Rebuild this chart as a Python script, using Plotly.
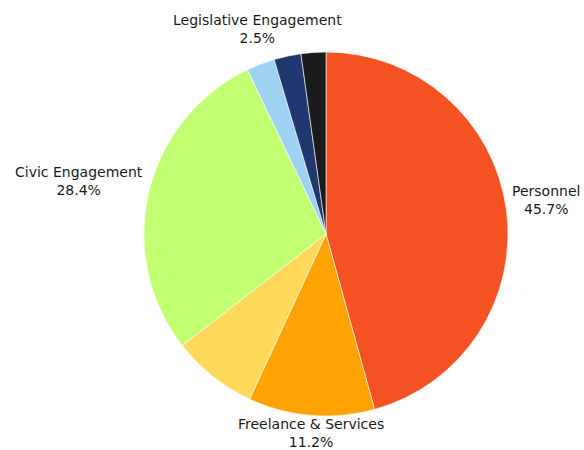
import math
import plotly.graph_objects as go

labels = ["Personnel", "Freelance & Services", "Events", "Civic Engagement",
          "Legislative Engagement", "Communications", "Other"]
values = [45.7, 11.2, 7.6, 28.4, 2.5, 2.4, 2.2]
shown = [True, True, False, True, True, False, False]
colors = ["#F55224", "#FFA302", "#FFD95A", "#C2FF72", "#9DD2F3", "#21376F", "#1B1B1B"]

fig = go.Figure(go.Pie(
    labels=labels,
    values=values,
    textinfo="none",
    sort=False,
    direction="clockwise",
    rotation=0,
    marker=dict(colors=colors, line=dict(color="white", width=0.6)),
    hoverinfo="label+percent",
    showlegend=False,
    domain=dict(x=[0, 1], y=[0, 1]),
))

# Place labels outside each shown slice, at its middle angle (derived from the values)
total = sum(values)
k = 1.04  # label radius relative to pie radius
cum = 0.0
for lab, v, s in zip(labels, values, shown):
    mid = (cum + v / 2) / total * 2 * math.pi
    cum += v
    if not s:
        continue
    sx, cy = math.sin(mid), math.cos(mid)
    x = 0.5 + 0.5 * k * sx
    y = 0.5 + 0.5 * k * cy
    if abs(sx) < 0.5:
        xa = "center"
        ya = "bottom" if cy > 0 else "top"
        xs = 0
    else:
        xa = "left" if sx > 0 else "right"
        ya = "middle"
        xs = -4 if sx > 0 else 3
    fig.add_annotation(
        x=x, y=y, xref="paper", yref="paper",
        text=f"{lab}<br>{v / total * 100:.1f}%",
        showarrow=False, xanchor=xa, yanchor=ya, yshift=9, xshift=xs,
        align="center",
        font=dict(family="DejaVu Sans", size=14, color="#1a1a1a"),
    )

fig.update_layout(
    width=584, height=450,
    margin=dict(l=144, r=76, t=52, b=34),
    paper_bgcolor="white",
    plot_bgcolor="white",
    font=dict(family="DejaVu Sans"),
)

fig.write_html("out.html", config={"displayModeBar": False},
               post_script="document.body.style.margin='0';")
